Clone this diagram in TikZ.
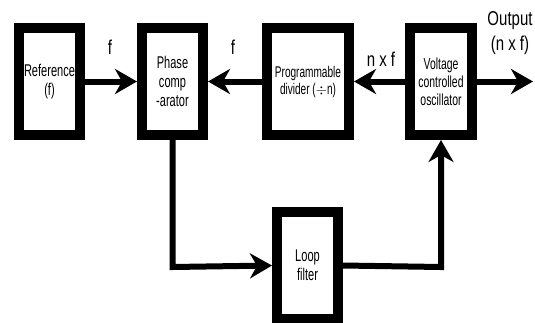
\documentclass[tikz,border=0pt]{standalone}
\usepackage{fontspec}
\setmainfont{Liberation Sans}
\newfontfamily\boxfont[FakeStretch=0.65]{Liberation Sans}
\newfontfamily\labfont[FakeStretch=0.75]{Liberation Sans}
\usetikzlibrary{arrows.meta}
\begin{document}
\begin{tikzpicture}[x=1pt,y=-1pt,
  blk/.style={draw=black,line width=10pt,minimum width=61pt,minimum height=107pt,
    inner sep=0pt,align=center,font=\boxfont\fontsize{17}{19}\selectfont},
  conn/.style={line width=6pt,-{Stealth[length=22pt,width=25pt,inset=7pt]}},
  lab/.style={font=\labfont\fontsize{20}{25}\selectfont,inner sep=0pt}]
\useasboundingbox (0,0) rectangle (535,322);
\node[blk] (ref) at (49.5,81.5) {Reference\\(f)};
\node[blk] (pc) at (172.5,81.5) {Phase\\comp\\-arator};
\node[blk,minimum width=82pt,font=\boxfont\fontsize{15.5}{17}\selectfont] (div) at (308,81.5) {Programmable\\divider (\(\div\)n)};
\node[blk,minimum width=62pt,font=\boxfont\fontsize{16}{18}\selectfont] (vco) at (441,81.5) {Voltage\\controlled\\oscillator};
\node[blk] (lf) at (307.5,265.5) {Loop\\filter};
\coordinate (out) at (533,81.5);
\coordinate (c1) at (172.5,267);
\coordinate (c2) at (441,267);
\draw[conn] (ref.east) -- (pc.west);
\draw[conn] (div.west) -- (pc.east);
\draw[conn] (vco.west) -- (div.east);
\draw[conn] (vco.east) -- (out);
\draw[conn] (pc.south) -- (c1) -- (lf.west);
\draw[conn] (lf.east) -- (c2) -- (vco.south);
\node[lab] (f1) at (110,47) {f};
\node[lab] (f2) at (233,47) {f};
\node[lab] (nxf) at (381,59) {n x f};
\node[lab,align=center] (outl) at (510,33) {Output\\(n x f)};
\end{tikzpicture}
\end{document}
